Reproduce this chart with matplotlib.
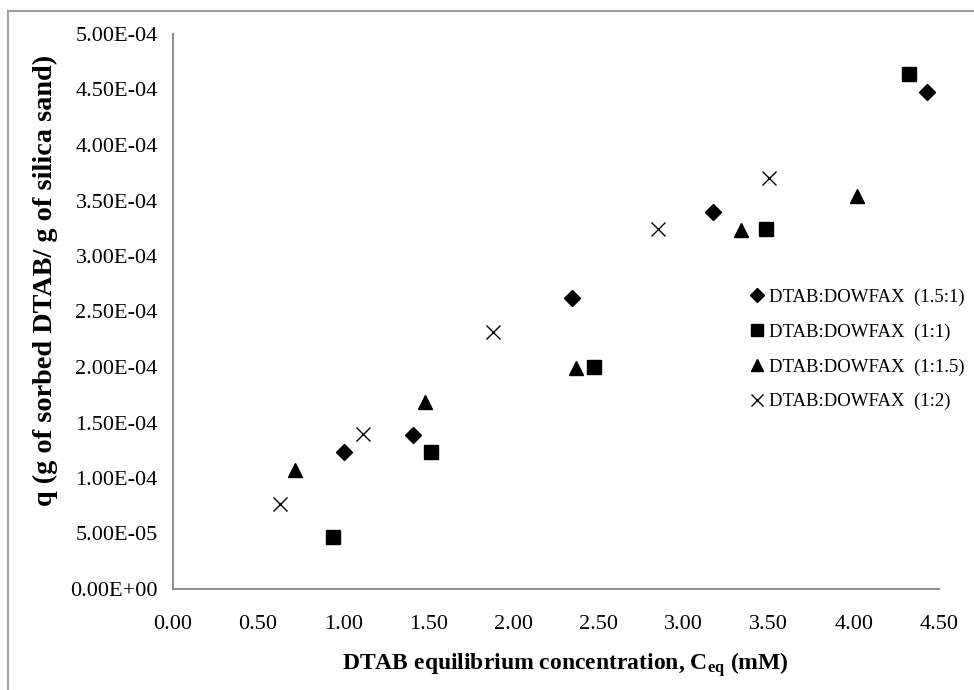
"""
Sorption isotherm of DTAB onto silica sand for four DTAB:DOWFAX ratios.

Writes out.png (974x690).
"""

import matplotlib
matplotlib.use("Agg")
import matplotlib.pyplot as plt
from matplotlib.patches import Rectangle
from matplotlib.ticker import FuncFormatter, MultipleLocator

# equilibrium concentration (mM) and sorbed amount (g/g) per series
x_15_1 = [1.005, 1.412, 2.346, 3.175, 4.428]
q_15_1 = [1.237e-4, 1.387e-4, 2.619e-4, 3.399e-4, 4.475e-4]

x_1_1 = [0.942, 1.516, 2.474, 3.484, 4.324]
q_1_1 = [4.71e-5, 1.237e-4, 2.003e-4, 3.24e-4, 4.64e-4]

x_1_15 = [0.717, 1.481, 2.368, 3.337, 4.017]
q_1_15 = [1.072e-4, 1.687e-4, 1.988e-4, 3.234e-4, 3.54e-4]

x_1_2 = [0.629, 1.118, 1.878, 2.848, 3.503]
q_1_2 = [7.66e-5, 1.396e-4, 2.313e-4, 3.24e-4, 3.70e-4]

labels = [
    "DTAB:DOWFAX  (1.5:1)",
    "DTAB:DOWFAX  (1:1)",
    "DTAB:DOWFAX  (1:1.5)",
    "DTAB:DOWFAX  (1:2)",
]

plt.rcParams["font.family"] = ["Liberation Serif", "DejaVu Serif"]
plt.rcParams["mathtext.fontset"] = "custom"
plt.rcParams["mathtext.rm"] = "Liberation Serif"
plt.rcParams["mathtext.bf"] = "Liberation Serif:bold"

W, H = 974, 690
fig = plt.figure(figsize=(W / 100, H / 100), dpi=100)
ax = fig.add_axes([173 / W, 1 - 589 / H, (939 - 173) / W, (589 - 34) / H])

ax.plot(x_15_1, q_15_1, "D", ms=7.8, color="black", label=labels[0], linestyle="none")
ax.plot(x_1_1, q_1_1, "s", ms=10.5, color="black", label=labels[1], linestyle="none")
ax.plot(x_1_15, q_1_15, "^", ms=10.5, color="black", label=labels[2], linestyle="none")
ax.plot(x_1_2, q_1_2, "x", ms=10.5, mew=1.0, color="black", label=labels[3], linestyle="none")

ax.set_xlim(0, 4.5)
ax.set_ylim(0, 5e-4)
ax.xaxis.set_major_locator(MultipleLocator(0.5))
ax.yaxis.set_major_locator(MultipleLocator(5e-5))
ax.xaxis.set_major_formatter(FuncFormatter(lambda v, _: f"{v:.2f}"))
ax.yaxis.set_major_formatter(FuncFormatter(lambda v, _: f"{v:.2E}"))
ax.tick_params(axis="both", length=0, labelsize=16)
ax.tick_params(axis="x", pad=19)
ax.tick_params(axis="y", pad=11)

for side in ("top", "right"):
    ax.spines[side].set_visible(False)
for side in ("left", "bottom"):
    ax.spines[side].set_color("#8c8c8c")
    ax.spines[side].set_linewidth(1.4)

ax.set_xlabel(r"DTAB equilibrium concentration, $\mathbf{C_{eq}}$ (mM)",
              fontsize=17, fontweight="bold", va="center")
ax.xaxis.set_label_coords(565 / W, 1 - 665 / H, transform=fig.transFigure)
ax.set_ylabel("q (g of sorbed DTAB/ g of silica sand)", fontsize=20.3,
              fontweight="bold", va="center")
ax.yaxis.set_label_coords(45 / W, 1 - 280 / H, transform=fig.transFigure)

ax.legend(loc="center left", bbox_to_anchor=(733 / W, 1 - 349.5 / H),
          bbox_transform=fig.transFigure, frameon=False, fontsize=13.5,
          handlelength=0.8, handletextpad=0.2, labelspacing=0.93,
          borderpad=0.4, markerscale=0.85)

# outer chart frame
fig.patches.append(Rectangle((8 / W, -0.05), 1.1, 1 - 11 / H + 0.05,
                             transform=fig.transFigure, fill=False,
                             edgecolor="#a0a0a0", linewidth=1.5))

fig.savefig("out.png", dpi=100)
